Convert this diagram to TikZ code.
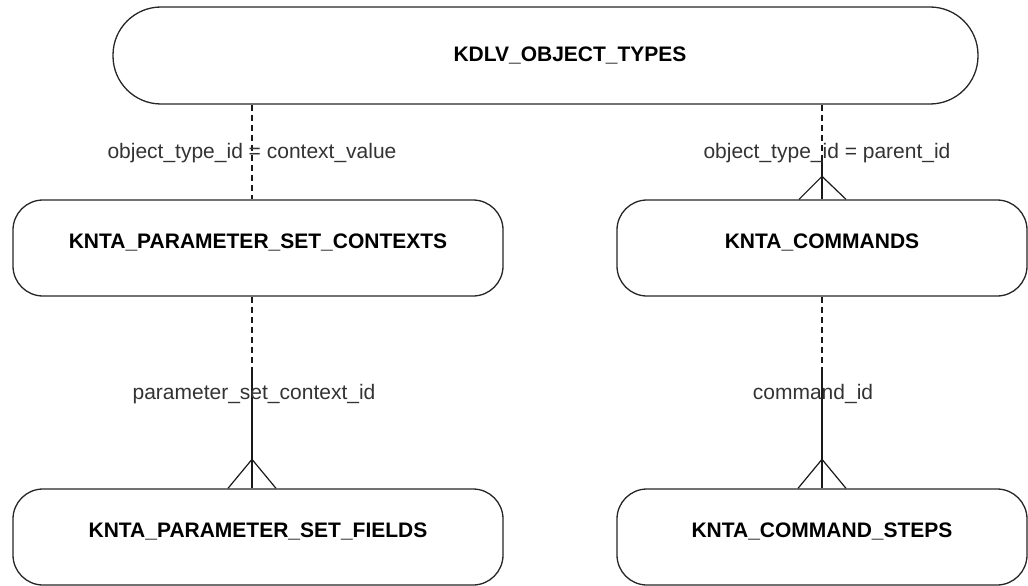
\documentclass[tikz,border=0pt]{standalone}
\usepackage{fontspec}
\setmainfont{Liberation Sans}
\begin{document}
\begin{tikzpicture}[x=1pt,y=-1pt,
  ent/.style={draw=black!85, line width=1.3pt, inner sep=0pt, fill=white,
    font=\fontsize{21}{25}\selectfont\bfseries, text height=15pt, text depth=14pt},
  midbox/.style={ent, rounded corners=30pt, minimum height=96pt},
  rel/.style={line width=1.2pt, draw=black!90},
  reldash/.style={rel, dash pattern=on 6pt off 4pt},
  lbl/.style={font=\fontsize{21}{25}\selectfont, text=black!80, inner sep=0pt, anchor=base}]
\useasboundingbox (0,0) rectangle (1028,586);

% entities
\node[ent, rounded corners=48pt, minimum width=865pt, minimum height=97pt, text height=20pt, text depth=8pt] (top) at (545.5,55.5) {\hspace*{49pt}KDLV\_OBJECT\_TYPES};
\node[midbox, minimum width=490pt] (ctx) at (258,248) {KNTA\_PARAMETER\_SET\_CONTEXTS};
\node[midbox, minimum width=410pt] (cmd) at (822,248) {KNTA\_COMMANDS};
\node[midbox, minimum width=490pt] (fld) at (258,537) {KNTA\_PARAMETER\_SET\_FIELDS};
\node[midbox, minimum width=410pt] (stp) at (822,537) {KNTA\_COMMAND\_STEPS};

\path ([xshift=-6pt]ctx.north) coordinate (ctxn);
\path ([xshift=-6pt]ctx.south) coordinate (ctxs);
\path ([xshift=-6pt]fld.north) coordinate (fldn);

% top -> contexts
\draw[reldash] (ctxn |- top.south) -- (ctxn);
% top -> commands
\draw[reldash] (cmd.north |- top.south) -- ([yshift=38pt]cmd.north);
\draw[rel] ([yshift=38pt]cmd.north) -- (cmd.north);
\draw[rel] ([xshift=-23pt]cmd.north) -- ([yshift=23pt]cmd.north) -- ([xshift=24pt]cmd.north);
% contexts -> fields
\draw[reldash] (ctxs) -- ([yshift=121pt]fldn);
\draw[rel] ([yshift=121pt]fldn) -- (fldn);
\draw[rel] ([xshift=-24pt]fldn) -- ([yshift=29pt]fldn) -- ([xshift=24pt]fldn);
% commands -> steps
\draw[reldash] (cmd.south) -- ([yshift=121pt]stp.north);
\draw[rel] ([yshift=121pt]stp.north) -- (stp.north);
\draw[rel] ([xshift=-24pt]stp.north) -- ([yshift=29pt]stp.north) -- ([xshift=24pt]stp.north);

% labels
\node[lbl] (l1) at (252,158) {object\_type\_id = context\_value};
\node[lbl] (l2) at (827,158) {object\_type\_id = parent\_id};
\node[lbl] (l3) at (254,399) {parameter\_set\_context\_id};
\node[lbl] (l4) at (813,399) {command\_id};
\end{tikzpicture}
\end{document}
